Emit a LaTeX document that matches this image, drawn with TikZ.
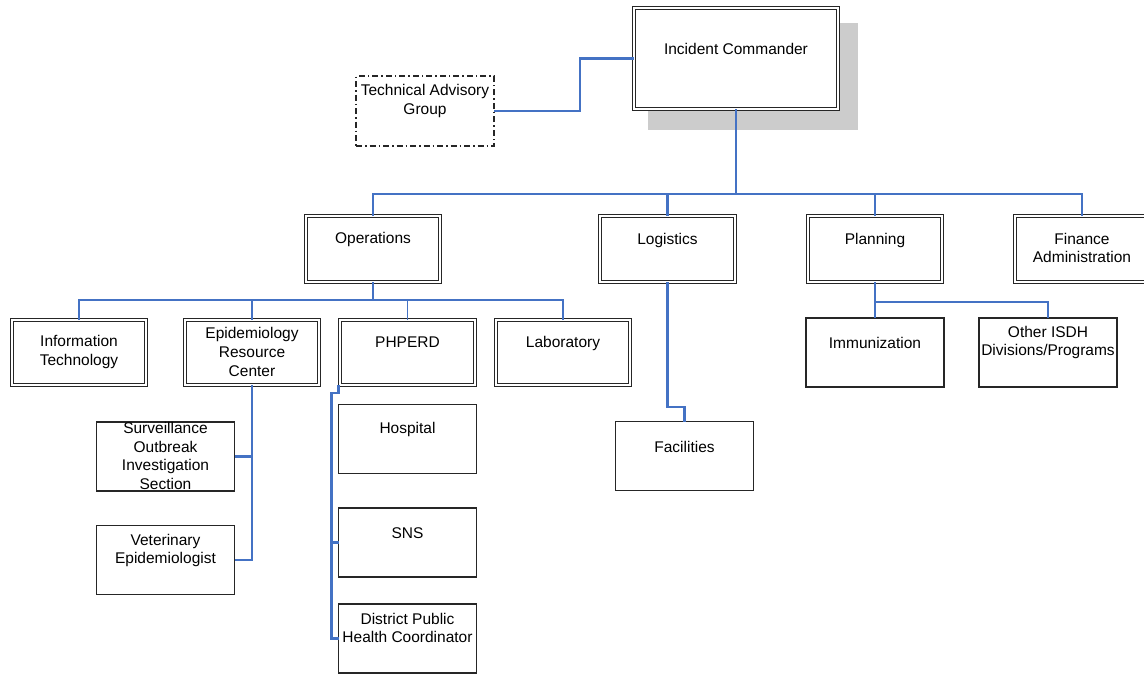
\documentclass[tikz,border=0pt]{standalone}
\usepackage{fontspec}
\setmainfont{Liberation Sans}
\definecolor{connblue}{RGB}{68,114,196}
\begin{document}
\begin{tikzpicture}[x=1pt,y=-1pt,
  dbox/.style={draw=black!85, fill=white, line width=1.2pt, double=white, double distance=2.1pt, inner sep=0pt, outer sep=0pt},
  sbox/.style={draw=black!85, fill=white, line width=1.3pt, inner sep=0pt, outer sep=0pt},
  dashbox/.style={draw=black!85, line width=1.2pt, dash pattern=on 6pt off 3pt on 1.5pt off 3pt, inner sep=0pt, outer sep=0pt},
  lvlbox/.style={minimum width=134pt, minimum height=66pt},
  subbox/.style={minimum width=134pt, minimum height=65pt},
  smallbox/.style={minimum width=138pt, minimum height=69pt},
  txt/.style={inner sep=0pt, align=center, font=\fontsize{15.5}{18.7}\selectfont},
  conn/.style={draw=connblue, line width=2.2pt},
  thinconn/.style={draw=connblue, line width=1.3pt}
]
\useasboundingbox (0,0) rectangle (1144,673);

% shadow and commander
\node[fill=black!20, inner sep=0pt, minimum width=210pt, minimum height=107pt] (shd) at (753,76.5) {};
\node[dbox, minimum width=204pt, minimum height=101pt] (cmd) at (736,58.5) {};
\node[txt] (cmdT) at (736,49) {Incident Commander};

% technical advisory group
\node[dashbox, minimum width=138pt, minimum height=70pt] (tag) at (425,111) {};
\node[txt] (tagT) at (425,101) {Technical Advisory\\Group};

% level 2
\node[dbox, lvlbox] (ops) at (373,249) {};
\node[dbox, lvlbox, minimum width=135pt] (log) at (667.5,249) {};
\node[dbox, lvlbox] (pln) at (875,249) {};
\node[dbox, lvlbox] (fin) at (1082,249) {};
\node[txt] (opsT) at (373,239) {Operations};
\node[txt] (logT) at (667.5,240) {Logistics};
\node[txt] (plnT) at (875,240) {Planning};
\node[txt] (finT) at (1082,248) {Finance\\Administration};

% level 3 under operations
\node[dbox, subbox] (it) at (79,352.5) {};
\node[dbox, subbox] (epi) at (252,352.5) {};
\node[dbox, subbox, minimum width=135pt] (php) at (407.5,352.5) {};
\node[dbox, subbox] (lab) at (563,352.5) {};
\node[txt] (itT) at (79,352) {Information\\Technology};
\node[txt] (epiT) at (252,352) {Epidemiology\\Resource\\Center};
\node[txt] (phpT) at (407.5,342) {PHPERD};
\node[txt] (labT) at (563,343) {Laboratory};

% planning children
\node[sbox, smallbox] (imm) at (875,352.5) {};
\node[sbox, smallbox] (oth) at (1048,352.5) {};
\node[txt] (immT) at (875,343) {Immunization};
\node[txt] (othT) at (1048,342.5) {Other ISDH\\Divisions/Programs};

% epidemiology children
\node[sbox, smallbox] (surv) at (165.5,456.5) {};
\node[sbox, smallbox] (vet) at (165.5,560) {};
\node[txt] (survT) at (165.5,456) {Surveillance\\Outbreak\\Investigation\\Section};
\node[txt] (vetT) at (165.5,550.5) {Veterinary\\Epidemiologist};

% PHPERD children
\node[sbox, smallbox] (hosp) at (407.5,439) {};
\node[sbox, smallbox] (sns) at (407.5,542.5) {};
\node[sbox, smallbox] (dphc) at (407.5,638.5) {};
\node[txt] (hospT) at (407.5,429) {Hospital};
\node[txt] (snsT) at (407.5,533) {SNS};
\node[txt] (dphcT) at (407.5,628) {District Public\\Health Coordinator};

% logistics child
\node[sbox, smallbox] (fac) at (684.5,456) {};
\node[txt] (facT) at (684.5,447) {Facilities};

% connectors
\draw[conn] (tag.east) -- ++(86,0) |- (cmd.west);
\draw[conn] (cmd.south) -- ++(0,85) coordinate (b1);
\draw[conn] (ops.north) |- (b1);
\draw[conn] (fin.north) |- (b1);
\draw[conn] (log.north) -- (log.north |- b1);
\draw[conn] (pln.north) -- (pln.north |- b1);

\draw[conn] (ops.south) -- ++(0,18) coordinate (b2);
\draw[conn] (it.north) |- (b2);
\draw[conn] (lab.north) |- (b2);
\draw[thinconn] (epi.north) -- (epi.north |- b2);
\draw[thinconn] (php.north) -- (php.north |- b2);

\draw[conn] (epi.south) |- (vet.east);
\draw[conn] (surv.east) -- (surv.east -| epi.south);

\draw[conn] ([xshift=-1.5pt]php.south west) -- ++(0,8) -- ++(-7,0) coordinate (pv) |- (dphc.west);
\draw[conn] (sns.west) -- (sns.west -| pv);

\draw[conn] (log.south) -- ++(0,125) -| (fac.north);

\draw[conn] (pln.south) -- (imm.north);
\draw[conn] (pln.south) -- ++(0,20) coordinate (b3) -| (oth.north);
\end{tikzpicture}
\end{document}
